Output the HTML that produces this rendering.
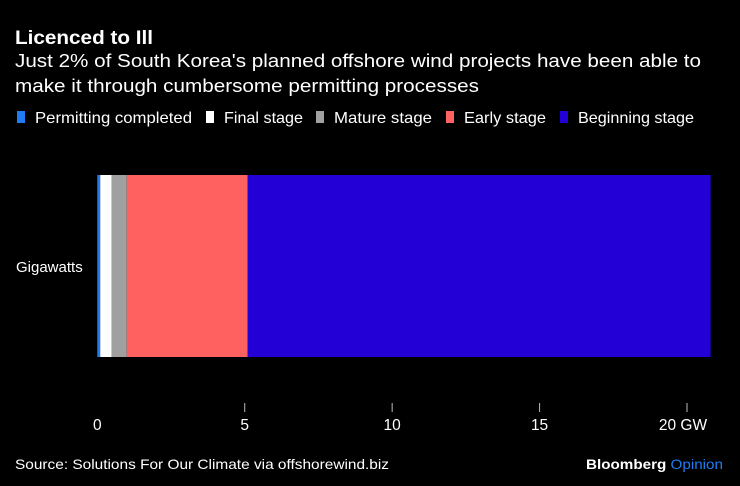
<!DOCTYPE html>
<html><head><meta charset="utf-8"><style>
html,body{margin:0;padding:0;background:#000;}
svg{display:block;font-family:"Liberation Sans",sans-serif;}
</style></head><body>
<svg id="chart" width="740" height="486" viewBox="0 0 740 486" xmlns="http://www.w3.org/2000/svg">
<rect width="740" height="486" fill="#000"/>
<text x="15" y="44" fill="#fff" font-size="19" font-weight="bold" textLength="138" lengthAdjust="spacingAndGlyphs">Licenced to Ill</text>
<text x="15" y="67" fill="#fff" font-size="18" textLength="686" lengthAdjust="spacingAndGlyphs">Just 2% of South Korea's planned offshore wind projects have been able to</text>
<text x="15" y="92" fill="#fff" font-size="18" textLength="464" lengthAdjust="spacingAndGlyphs">make it through cumbersome permitting processes</text>
<g id="legend"></g>
<g id="bars"></g>
<g id="axis"></g>
<text x="16" y="272" fill="#fff" font-size="15">Gigawatts</text>
<text x="15" y="469" fill="#fff" font-size="14" textLength="374" lengthAdjust="spacingAndGlyphs">Source: Solutions For Our Climate via offshorewind.biz</text>
<text x="723" y="469" text-anchor="end" font-size="14" font-weight="bold" textLength="137" lengthAdjust="spacingAndGlyphs"><tspan fill="#fff">Bloomberg </tspan><tspan fill="#1f7cf5" font-weight="normal">Opinion</tspan></text>
</svg>
<script>
const categories = ["Gigawatts"];
const seriesNames = ["Permitting completed","Final stage","Mature stage","Early stage","Beginning stage"];
const seriesValues = [0.1, 0.39, 0.51, 4.1, 15.7];
const seriesColors = ["#1f7cf5","#ffffff","#a0a0a0","#ff6060","#2300d6"];
const tickValues = [0, 5, 10, 15, 20];
const tickLabels = ["0","5","10","15","20 GW"];
const legendX = [17, 206, 316, 446, 560];
const legendTextW = [157, 79, 98, 82, 116];

const NS = "http://www.w3.org/2000/svg";
const x0 = 97.3, pxPer = (687 - 97.3) / 20;
function xScale(v){ return x0 + v * pxPer; }
const barTop = 175, barH = 182;

const bars = document.getElementById('bars');
let acc = 0;
seriesValues.forEach((v, i) => {
  const r = document.createElementNS(NS, 'rect');
  r.setAttribute('x', xScale(acc));
  r.setAttribute('y', barTop);
  r.setAttribute('width', xScale(acc + v) - xScale(acc));
  r.setAttribute('height', barH);
  r.setAttribute('fill', seriesColors[i]);
  
  
  bars.appendChild(r);
  acc += v;
});

const axis = document.getElementById('axis');
tickValues.forEach((t, i) => {
  const x = xScale(t);
  if (t !== 0) {
    const l = document.createElementNS(NS, 'line');
    l.setAttribute('x1', x); l.setAttribute('x2', x);
    l.setAttribute('y1', 403); l.setAttribute('y2', 412);
    l.setAttribute('stroke', '#bbb'); l.setAttribute('stroke-width', '1');
    
    
    axis.appendChild(l);
  }
  const tx = document.createElementNS(NS, 'text');
  tx.setAttribute('x', i === tickValues.length - 1 ? x - 4 : x);
  tx.setAttribute('y', 430);
  tx.setAttribute('fill', '#fff');
  tx.setAttribute('font-size', '15.5');
  tx.setAttribute('text-anchor', 'middle');
  tx.textContent = tickLabels[i];
  
  
  axis.appendChild(tx);
});

const legend = document.getElementById('legend');
seriesNames.forEach((n, i) => {
  const s = document.createElementNS(NS, 'rect');
  s.setAttribute('x', legendX[i]); s.setAttribute('y', 111);
  s.setAttribute('width', 8); s.setAttribute('height', 12);
  s.setAttribute('fill', seriesColors[i]);
  
  
  legend.appendChild(s);
  const t = document.createElementNS(NS, 'text');
  t.setAttribute('x', legendX[i] + 18); t.setAttribute('y', 123);
  t.setAttribute('fill', '#fff'); t.setAttribute('font-size', '16');
  t.setAttribute('textLength', legendTextW[i]);
  t.setAttribute('lengthAdjust', 'spacingAndGlyphs');
  t.textContent = n;
  
  
  legend.appendChild(t);
});
</script>
</body></html>
